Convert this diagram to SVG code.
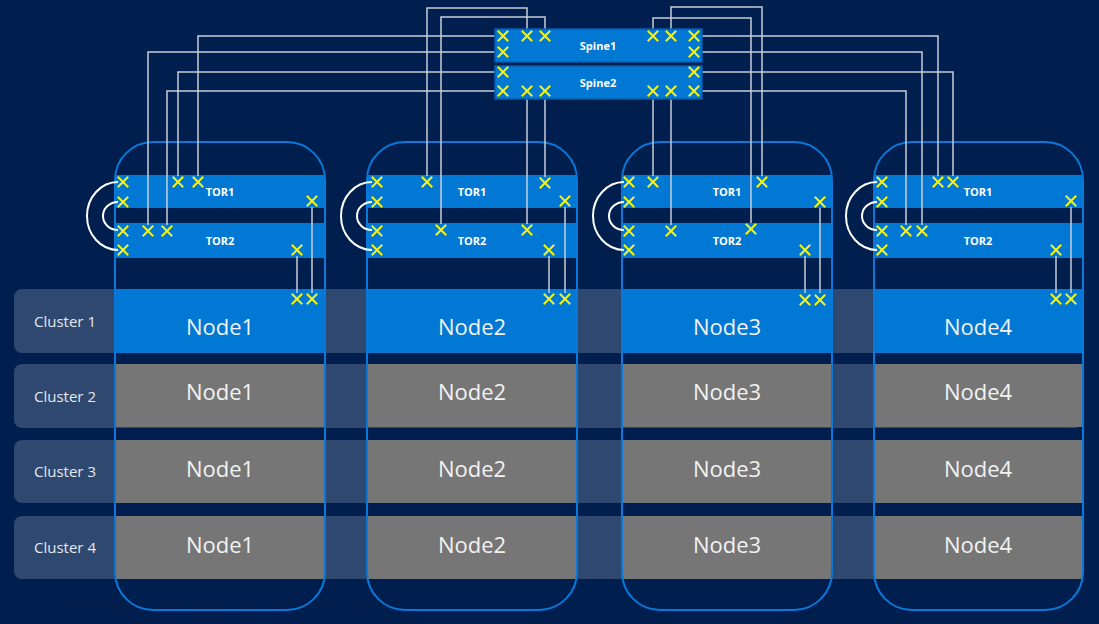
<svg xmlns="http://www.w3.org/2000/svg" xmlns:xlink="http://www.w3.org/1999/xlink" width="1099" height="624" viewBox="0 0 1099 624">
<defs>
<style>
.bg{fill:#001F4F}
.band{fill:#2F4870}
.rack{fill:none;stroke:#0A78D8;stroke-width:2}
.bar{fill:#0078D4}
.gap{fill:#001F4F}
.gnode{fill:#767676}
.bnode{fill:#0078D4}
.spine{fill:#0078D4;stroke:#0B5CAB;stroke-width:1.5}
.wire{fill:none;stroke:#C9CDD6;stroke-width:1.5}
.loop{fill:none;stroke:#FFFFFF;stroke-width:2}
.x{fill:none;stroke:#F4F21A;stroke-width:2;stroke-linecap:square}
.lbl{font-family:"Open Sans","Noto Sans",sans-serif;fill:#FFFFFF;font-weight:700;font-size:11px;text-anchor:middle}
.node{font-family:"Open Sans","Noto Sans",sans-serif;fill:#F2F2F2;font-size:22px;text-anchor:middle}
.clu{font-family:"Open Sans","Noto Sans",sans-serif;fill:#E4E8EE;font-size:15px;text-anchor:middle}
.foot{font-family:"Liberation Sans",sans-serif;fill:#0B1D44;font-size:10px;letter-spacing:2.6px;text-anchor:middle}
</style>
<path id="xm" class="x" d="M-4.5,-4.5L4.5,4.5M-4.5,4.5L4.5,-4.5"/>
</defs>
<rect class="bg" x="0" y="0" width="1099" height="624"/>
<text class="foot" x="226" y="609">MICROSOFT CONFIDENTIAL - INTERNAL ONLY</text>

<g id="clusters">
<g id="cluster1"><rect class="band" x="14" y="289" width="1069" height="64" rx="8"/><text class="clu" x="65" y="327">Cluster 1</text></g>
<g id="cluster2"><rect class="band" x="14" y="364" width="1069" height="64" rx="8"/><text class="clu" x="65" y="402">Cluster 2</text></g>
<g id="cluster3"><rect class="band" x="14" y="440" width="1069" height="63" rx="8"/><text class="clu" x="65" y="477">Cluster 3</text></g>
<g id="cluster4"><rect class="band" x="14" y="516" width="1069" height="63" rx="8"/><text class="clu" x="65" y="553">Cluster 4</text></g>
</g>

<g id="rack1">
<rect class="gap" x="115" y="142" width="210" height="147"/>
<rect class="bar" x="115" y="175" width="210" height="33"/>
<rect class="bar" x="115" y="223" width="210" height="35"/>
<text class="lbl" x="220" y="196">TOR1</text>
<text class="lbl" x="220" y="245">TOR2</text>
<rect class="bnode" x="115" y="289" width="210" height="64"/>
<rect class="gnode" x="116" y="364" width="208" height="63"/>
<rect class="gnode" x="116" y="440" width="208" height="63"/>
<rect class="gnode" x="116" y="516" width="208" height="63"/>
<text class="node" x="220" y="335">Node1</text>
<text class="node" x="220" y="400">Node1</text>
<text class="node" x="220" y="477">Node1</text>
<text class="node" x="220" y="553">Node1</text>
<rect class="rack" x="115" y="142" width="210" height="468" rx="38"/>
</g>

<g id="rack2">
<rect class="gap" x="367" y="142" width="210" height="147"/>
<rect class="bar" x="367" y="175" width="210" height="33"/>
<rect class="bar" x="367" y="223" width="210" height="35"/>
<text class="lbl" x="472" y="196">TOR1</text>
<text class="lbl" x="472" y="245">TOR2</text>
<rect class="bnode" x="367" y="289" width="210" height="64"/>
<rect class="gnode" x="368" y="364" width="208" height="63"/>
<rect class="gnode" x="368" y="440" width="208" height="63"/>
<rect class="gnode" x="368" y="516" width="208" height="63"/>
<text class="node" x="472" y="335">Node2</text>
<text class="node" x="472" y="400">Node2</text>
<text class="node" x="472" y="477">Node2</text>
<text class="node" x="472" y="553">Node2</text>
<rect class="rack" x="367" y="142" width="210" height="468" rx="38"/>
</g>

<g id="rack3">
<rect class="gap" x="622" y="142" width="210" height="147"/>
<rect class="bar" x="622" y="175" width="210" height="33"/>
<rect class="bar" x="622" y="223" width="210" height="35"/>
<text class="lbl" x="727" y="196">TOR1</text>
<text class="lbl" x="727" y="245">TOR2</text>
<rect class="bnode" x="622" y="289" width="210" height="64"/>
<rect class="gnode" x="623" y="364" width="208" height="63"/>
<rect class="gnode" x="623" y="440" width="208" height="63"/>
<rect class="gnode" x="623" y="516" width="208" height="63"/>
<text class="node" x="727" y="335">Node3</text>
<text class="node" x="727" y="400">Node3</text>
<text class="node" x="727" y="477">Node3</text>
<text class="node" x="727" y="553">Node3</text>
<rect class="rack" x="622" y="142" width="210" height="468" rx="38"/>
</g>

<g id="rack4">
<rect class="gap" x="874" y="142" width="209" height="147"/>
<rect class="bar" x="874" y="175" width="209" height="33"/>
<rect class="bar" x="874" y="223" width="209" height="35"/>
<text class="lbl" x="978" y="196">TOR1</text>
<text class="lbl" x="978" y="245">TOR2</text>
<rect class="bnode" x="874" y="289" width="209" height="64"/>
<rect class="gnode" x="875" y="364" width="207" height="63"/>
<rect class="gnode" x="875" y="440" width="207" height="63"/>
<rect class="gnode" x="875" y="516" width="207" height="63"/>
<text class="node" x="978" y="335">Node4</text>
<text class="node" x="978" y="400">Node4</text>
<text class="node" x="978" y="477">Node4</text>
<text class="node" x="978" y="553">Node4</text>
<rect class="rack" x="874" y="142" width="209" height="468" rx="38"/>
</g>

<g id="connectors">
<polyline class="wire" points="495,36 198,36 198,176"/>
<polyline class="wire" points="495,52 148,52 148,225"/>
<polyline class="wire" points="495,72 178,72 178,176"/>
<polyline class="wire" points="495,91 167,91 167,225"/>
<polyline class="wire" points="702,36 938,36 938,176"/>
<polyline class="wire" points="702,52 922,52 922,225"/>
<polyline class="wire" points="702,72 953,72 953,176"/>
<polyline class="wire" points="702,91 906,91 906,225"/>
<polyline class="wire" points="527,29 527,8 427,8 427,176"/>
<polyline class="wire" points="545,29 545,17 441,17 441,224"/>
<polyline class="wire" points="653,29 653,18 751,18 751,223"/>
<polyline class="wire" points="671,29 671,7 762,7 762,176"/>
<polyline class="wire" points="527,99 527,224"/>
<polyline class="wire" points="545,99 545,177"/>
<polyline class="wire" points="653,99 653,176"/>
<polyline class="wire" points="671,99 671,225"/>
<line class="wire" x1="297" y1="256" x2="297" y2="293"/>
<line class="wire" x1="312" y1="207" x2="312" y2="293"/>
<line class="wire" x1="549" y1="256" x2="549" y2="293"/>
<line class="wire" x1="565" y1="207" x2="565" y2="293"/>
<line class="wire" x1="805" y1="256" x2="805" y2="293"/>
<line class="wire" x1="820" y1="208" x2="820" y2="293"/>
<line class="wire" x1="1056" y1="256" x2="1056" y2="293"/>
<line class="wire" x1="1071" y1="207" x2="1071" y2="293"/>
<path class="loop" d="M118,182 A31,34 0 0 0 118,250"/>
<path class="loop" d="M118,202 A15,14 0 0 0 118,230"/>
<path class="loop" d="M372,182 A31,34 0 0 0 372,250"/>
<path class="loop" d="M372,202 A15,14 0 0 0 372,230"/>
<path class="loop" d="M624,182 A31,34 0 0 0 624,250"/>
<path class="loop" d="M624,202 A15,14 0 0 0 624,230"/>
<path class="loop" d="M877,182 A31,34 0 0 0 877,250"/>
<path class="loop" d="M877,202 A15,14 0 0 0 877,230"/>
</g>

<g id="spine1">
<rect class="spine" x="495" y="29" width="207" height="33"/>
<text class="lbl" x="598" y="50">Spine1</text>
</g>
<g id="spine2">
<rect class="spine" x="495" y="66" width="207" height="33"/>
<text class="lbl" x="598" y="87">Spine2</text>
</g>

<g id="ports">
<use xlink:href="#xm" x="503" y="36"/><use xlink:href="#xm" x="503" y="52"/><use xlink:href="#xm" x="527" y="36"/><use xlink:href="#xm" x="545" y="36"/>
<use xlink:href="#xm" x="653" y="36"/><use xlink:href="#xm" x="671" y="36"/><use xlink:href="#xm" x="694" y="36"/><use xlink:href="#xm" x="694" y="52"/>
<use xlink:href="#xm" x="503" y="72"/><use xlink:href="#xm" x="503" y="91"/><use xlink:href="#xm" x="527" y="91"/><use xlink:href="#xm" x="545" y="91"/>
<use xlink:href="#xm" x="653" y="91"/><use xlink:href="#xm" x="671" y="91"/><use xlink:href="#xm" x="694" y="72"/><use xlink:href="#xm" x="694" y="91"/>

<use xlink:href="#xm" x="123" y="182"/><use xlink:href="#xm" x="123" y="202"/><use xlink:href="#xm" x="178" y="182"/><use xlink:href="#xm" x="198" y="182"/><use xlink:href="#xm" x="312" y="201"/>
<use xlink:href="#xm" x="123" y="231"/><use xlink:href="#xm" x="123" y="250"/><use xlink:href="#xm" x="148" y="231"/><use xlink:href="#xm" x="167" y="231"/><use xlink:href="#xm" x="297" y="250"/>
<use xlink:href="#xm" x="297" y="299"/><use xlink:href="#xm" x="312" y="299"/>

<use xlink:href="#xm" x="377" y="182"/><use xlink:href="#xm" x="377" y="202"/><use xlink:href="#xm" x="427" y="182"/><use xlink:href="#xm" x="545" y="183"/><use xlink:href="#xm" x="565" y="201"/>
<use xlink:href="#xm" x="377" y="231"/><use xlink:href="#xm" x="377" y="250"/><use xlink:href="#xm" x="441" y="230"/><use xlink:href="#xm" x="527" y="230"/><use xlink:href="#xm" x="549" y="250"/>
<use xlink:href="#xm" x="549" y="299"/><use xlink:href="#xm" x="565" y="299"/>

<use xlink:href="#xm" x="629" y="182"/><use xlink:href="#xm" x="629" y="202"/><use xlink:href="#xm" x="653" y="182"/><use xlink:href="#xm" x="762" y="182"/><use xlink:href="#xm" x="820" y="202"/>
<use xlink:href="#xm" x="629" y="231"/><use xlink:href="#xm" x="629" y="250"/><use xlink:href="#xm" x="671" y="231"/><use xlink:href="#xm" x="751" y="229"/><use xlink:href="#xm" x="805" y="250"/>
<use xlink:href="#xm" x="805" y="300"/><use xlink:href="#xm" x="820" y="300"/>

<use xlink:href="#xm" x="882" y="182"/><use xlink:href="#xm" x="882" y="202"/><use xlink:href="#xm" x="938" y="182"/><use xlink:href="#xm" x="953" y="182"/><use xlink:href="#xm" x="1071" y="201"/>
<use xlink:href="#xm" x="882" y="231"/><use xlink:href="#xm" x="882" y="250"/><use xlink:href="#xm" x="906" y="231"/><use xlink:href="#xm" x="922" y="231"/><use xlink:href="#xm" x="1056" y="250"/>
<use xlink:href="#xm" x="1056" y="299"/><use xlink:href="#xm" x="1071" y="299"/>
</g>
</svg>
